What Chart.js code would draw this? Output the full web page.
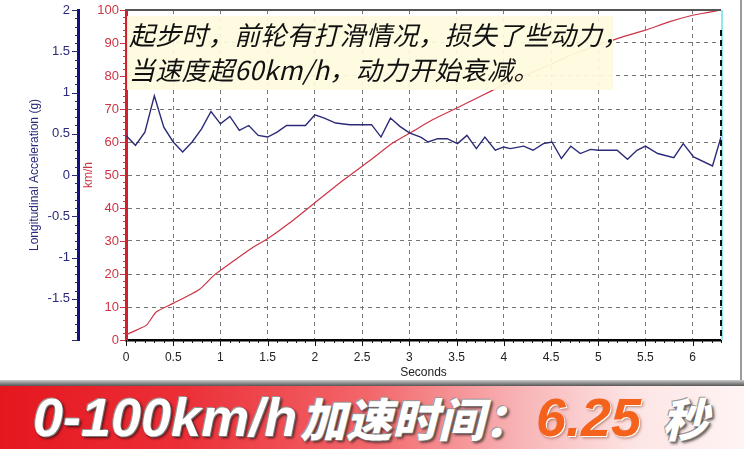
<!DOCTYPE html>
<html lang="zh-CN">
<head>
<meta charset="UTF-8">
<title>0-100km/h 加速曲线</title>
<script src="https://cdn.jsdelivr.net/npm/chart.js"></script>
<style>
  html, body { margin: 0; padding: 0; background: #fff; }
  #wrap { position: relative; width: 744px; height: 449px; overflow: hidden; background: #fff; }
  #chart { position: absolute; left: 0; top: 0; }
  .note { position: absolute; left: 127px; top: 16px; width: 486px; height: 74px; background: rgba(255, 251, 222, 0.93); }
  .note p { margin: 0; padding-left: 2px; font: italic 26px/35px "Noto Sans CJK SC", sans-serif; color: #111; white-space: nowrap; letter-spacing: 0.3px; }
  .edge { position: absolute; left: 740px; top: 0; width: 2px; height: 384px; background: #9a9a9a; }
  .shade { position: absolute; left: 0; top: 380px; width: 744px; height: 6px; background: linear-gradient(#ccc, #555); }
  .banner { position: absolute; left: 0; top: 386px; width: 744px; height: 63px;
    background: linear-gradient(90deg, #e5161e 0%, #ec3038 25%, #f2686c 50%, #f8b4b6 70%, #fde4e4 85%, #fff4f4 100%); }
  .banner span { position: absolute; top: 0; font-style: italic; font-weight: 900; white-space: nowrap; line-height: 63px; }
  .w { color: #fff; text-shadow: 1px 1px 0 #777, 2px 2px 3px rgba(0,0,0,0.7), -1px -1px 0 #999; }
  .a { left: 33px; font-family: "Liberation Sans", Arial, sans-serif; font-size: 54px; }
  .b { left: 300px; font-family: "Noto Sans CJK SC", sans-serif; font-size: 46px; }
  .c { left: 536px; font-family: "Liberation Sans", Arial, sans-serif; font-size: 54px; color: #f5621c; text-shadow: 1px 1px 0 #fff, 2px 2px 3px rgba(120,40,0,0.5); }
  .d { left: 662px; font-family: "Noto Sans CJK SC", sans-serif; font-size: 46px; }
</style>
</head>
<body>
<div id="wrap">
  <canvas id="chart" width="744" height="449"></canvas>
  <div class="note">
    <p>起步时，前轮有打滑情况，损失了些动力，</p>
    <p>当速度超60km/h，动力开始衰减。</p>
  </div>
  <div class="edge"></div>
  <div class="shade"></div>
  <div class="banner">
    <span class="a w">0-100km/h</span><span class="b w">加速时间：</span><span class="c">6.25</span><span class="d w">秒</span>
  </div>
</div>

<script>
  // longitudinal acceleration (g) over time (s)
  const accelTime = [0, 0.1, 0.2, 0.3, 0.4, 0.5, 0.6, 0.7, 0.8, 0.9, 1.0, 1.1, 1.2, 1.3, 1.4, 1.5, 1.6, 1.7, 1.9, 2.0,
    2.1, 2.22, 2.37, 2.6, 2.7, 2.8, 2.9, 3.0, 3.12, 3.2, 3.3, 3.4, 3.51, 3.61, 3.71, 3.8, 3.91, 4.0, 4.07, 4.21,
    4.31, 4.42, 4.51, 4.61, 4.71, 4.81, 4.92, 5.0, 5.2, 5.31, 5.41, 5.5, 5.63, 5.8, 5.9, 6.01, 6.21, 6.3];
  const accelG = [0.48, 0.36, 0.52, 0.96, 0.58, 0.40, 0.28, 0.40, 0.56, 0.77, 0.62, 0.71, 0.54, 0.60, 0.48, 0.46, 0.52, 0.60, 0.60, 0.73,
    0.69, 0.63, 0.61, 0.61, 0.46, 0.69, 0.59, 0.51, 0.46, 0.40, 0.44, 0.44, 0.38, 0.48, 0.32, 0.46, 0.30, 0.34, 0.32, 0.35,
    0.30, 0.38, 0.40, 0.20, 0.35, 0.26, 0.31, 0.30, 0.30, 0.19, 0.30, 0.35, 0.26, 0.21, 0.38, 0.22, 0.11, 0.46];

  // speed (km/h) over time (s)
  const speedTime = [0, 0.11, 0.22, 0.32, 0.5, 0.78, 0.94, 1.15, 1.35, 1.5, 1.72, 2.0, 2.3, 2.61, 2.82, 3.03, 3.25, 3.51,
    3.75, 4.0, 4.25, 4.52, 4.75, 5.01, 5.25, 5.5, 5.75, 6.0, 6.15, 6.3];
  const speedKmh = [1.6, 3.0, 4.6, 8.5, 11.1, 15.4, 19.8, 24.2, 28.2, 30.7, 35.2, 41.6, 48.4, 55.0, 59.6, 63.1, 66.8, 70.4,
    73.8, 77.3, 80.5, 83.8, 86.8, 89.4, 91.8, 93.9, 96.4, 98.4, 99.2, 100];

  const xTicks = [0, 0.5, 1, 1.5, 2, 2.5, 3, 3.5, 4, 4.5, 5, 5.5, 6, 6.3];
  const kmhTicks = [0, 10, 20, 30, 40, 50, 60, 70, 80, 90, 100];
  const gTicks = [-2, -1.5, -1, -0.5, 0, 0.5, 1, 1.5, 2];

  const RED = '#cc3344';
  const NAVY = '#2a2a78';

  // tick marks (major + minor) and plot frame, drawn through the scales
  const frame = {
    id: 'frame',
    afterDraw(chart) {
      const { ctx, chartArea: a } = chart;
      const sx = chart.scales.x, sk = chart.scales.kmh, sg = chart.scales.g;
      ctx.save();
      ctx.lineWidth = 1;
      ctx.strokeStyle = '#111';
      for (let i = 0; i <= 63; i++) {
        const px = Math.round(sx.getPixelForValue(i / 10)) + 0.5;
        const len = i % 5 === 0 ? 6 : 3;
        ctx.beginPath(); ctx.moveTo(px, a.bottom); ctx.lineTo(px, a.bottom + len); ctx.stroke();
      }
      ctx.strokeStyle = RED;
      for (let v = 0; v <= 100; v += 2) {
        const py = Math.round(sk.getPixelForValue(v)) + 0.5;
        const len = v % 10 === 0 ? 6 : 3;
        ctx.beginPath(); ctx.moveTo(sk.right, py); ctx.lineTo(sk.right - len, py); ctx.stroke();
      }
      ctx.strokeStyle = NAVY;
      for (let i = -20; i <= 20; i++) {
        const py = Math.round(sg.getPixelForValue(i / 10)) + 0.5;
        const len = i % 5 === 0 ? 6 : 3;
        ctx.beginPath(); ctx.moveTo(sg.right, py); ctx.lineTo(sg.right - len, py); ctx.stroke();
      }
      // top border
      ctx.strokeStyle = '#555';
      ctx.lineWidth = 2;
      ctx.beginPath(); ctx.moveTo(a.left, a.top); ctx.lineTo(a.right, a.top); ctx.stroke();
      // right edge: cyan + black dashes
      ctx.strokeStyle = '#8fe8f0';
      ctx.lineWidth = 2;
      ctx.beginPath(); ctx.moveTo(a.right + 1, a.top); ctx.lineTo(a.right + 1, a.bottom); ctx.stroke();
      ctx.strokeStyle = '#111';
      ctx.setLineDash([6, 4]);
      ctx.beginPath(); ctx.moveTo(a.right, a.top + 20); ctx.lineTo(a.right, a.bottom); ctx.stroke();
      ctx.restore();
    }
  };

  // keep the y axes from pushing the plot down for their end labels
  const noEndPad = (s, w) => { s.width = w; s.paddingTop = 0; s.paddingBottom = 0; };

  new Chart(document.getElementById('chart'), {
    type: 'line',
    data: {
      datasets: [
        {
          label: 'Longitudinal Acceleration (g)',
          data: accelTime.map((t, i) => ({ x: t, y: accelG[i] })),
          yAxisID: 'g',
          borderColor: NAVY,
          borderWidth: 1.4,
          pointRadius: 0,
          tension: 0,
        },
        {
          label: 'km/h',
          data: speedTime.map((t, i) => ({ x: t, y: speedKmh[i] })),
          yAxisID: 'kmh',
          borderColor: RED,
          borderWidth: 1.2,
          pointRadius: 0,
          tension: 0.2,
        },
      ],
    },
    options: {
      responsive: false,
      animation: false,
      layout: { padding: { top: 10, right: 23, bottom: 64, left: 0 } },
      plugins: { legend: { display: false }, tooltip: { enabled: false } },
      scales: {
        x: {
          type: 'linear',
          min: 0,
          max: 6.3,
          afterBuildTicks: (s) => { s.ticks = xTicks.map(v => ({ value: v })); },
          afterFit: (s) => { s.height = 45; },
          ticks: {
            padding: 10,
            color: '#222',
            font: { family: 'Liberation Sans', size: 12 },
            callback: (v) => (v === 6.3 ? '' : v),
          },
          grid: { color: '#777', lineWidth: 1, drawTicks: false },
          border: { color: '#000', width: 2.5, dash: [4, 4] },
          title: { display: true, text: 'Seconds', color: '#222', font: { family: 'Liberation Sans', size: 12 }, padding: { top: 0, bottom: 5 } },
        },
        kmh: {
          type: 'linear',
          position: 'left',
          weight: 1,
          min: 0,
          max: 100,
          afterBuildTicks: (s) => { s.ticks = kmhTicks.map(v => ({ value: v })); },
          afterFit: (s) => noEndPad(s, 48),
          ticks: { padding: 7, color: RED, font: { family: 'Liberation Sans', size: 13 } },
          grid: { color: (c) => (c.tick && (c.tick.value === 0 || c.tick.value === 100) ? 'rgba(0,0,0,0)' : '#777'), lineWidth: 1, drawTicks: false },
          border: { color: '#d0202c', width: 3, dash: [4, 4] },
          title: { display: true, text: 'km/h', color: RED, font: { family: 'Liberation Sans', size: 12 }, padding: { top: 3 } },
        },
        g: {
          type: 'linear',
          position: 'left',
          weight: 2,
          min: -2,
          max: 2,
          afterBuildTicks: (s) => { s.ticks = gTicks.map(v => ({ value: v })); },
          afterFit: (s) => noEndPad(s, 78),
          ticks: { padding: 8, color: NAVY, font: { family: 'Liberation Sans', size: 13 }, callback: (v) => (v === -2 ? '' : v) },
          grid: { drawOnChartArea: false, drawTicks: false },
          border: { color: '#10107a', width: 3 },
          title: { display: true, text: 'Longitudinal Acceleration (g)', color: NAVY, font: { family: 'Liberation Sans', size: 12 }, padding: { top: 27 } },
        },
      },
    },
    plugins: [frame],
  });
</script>
</body>
</html>
